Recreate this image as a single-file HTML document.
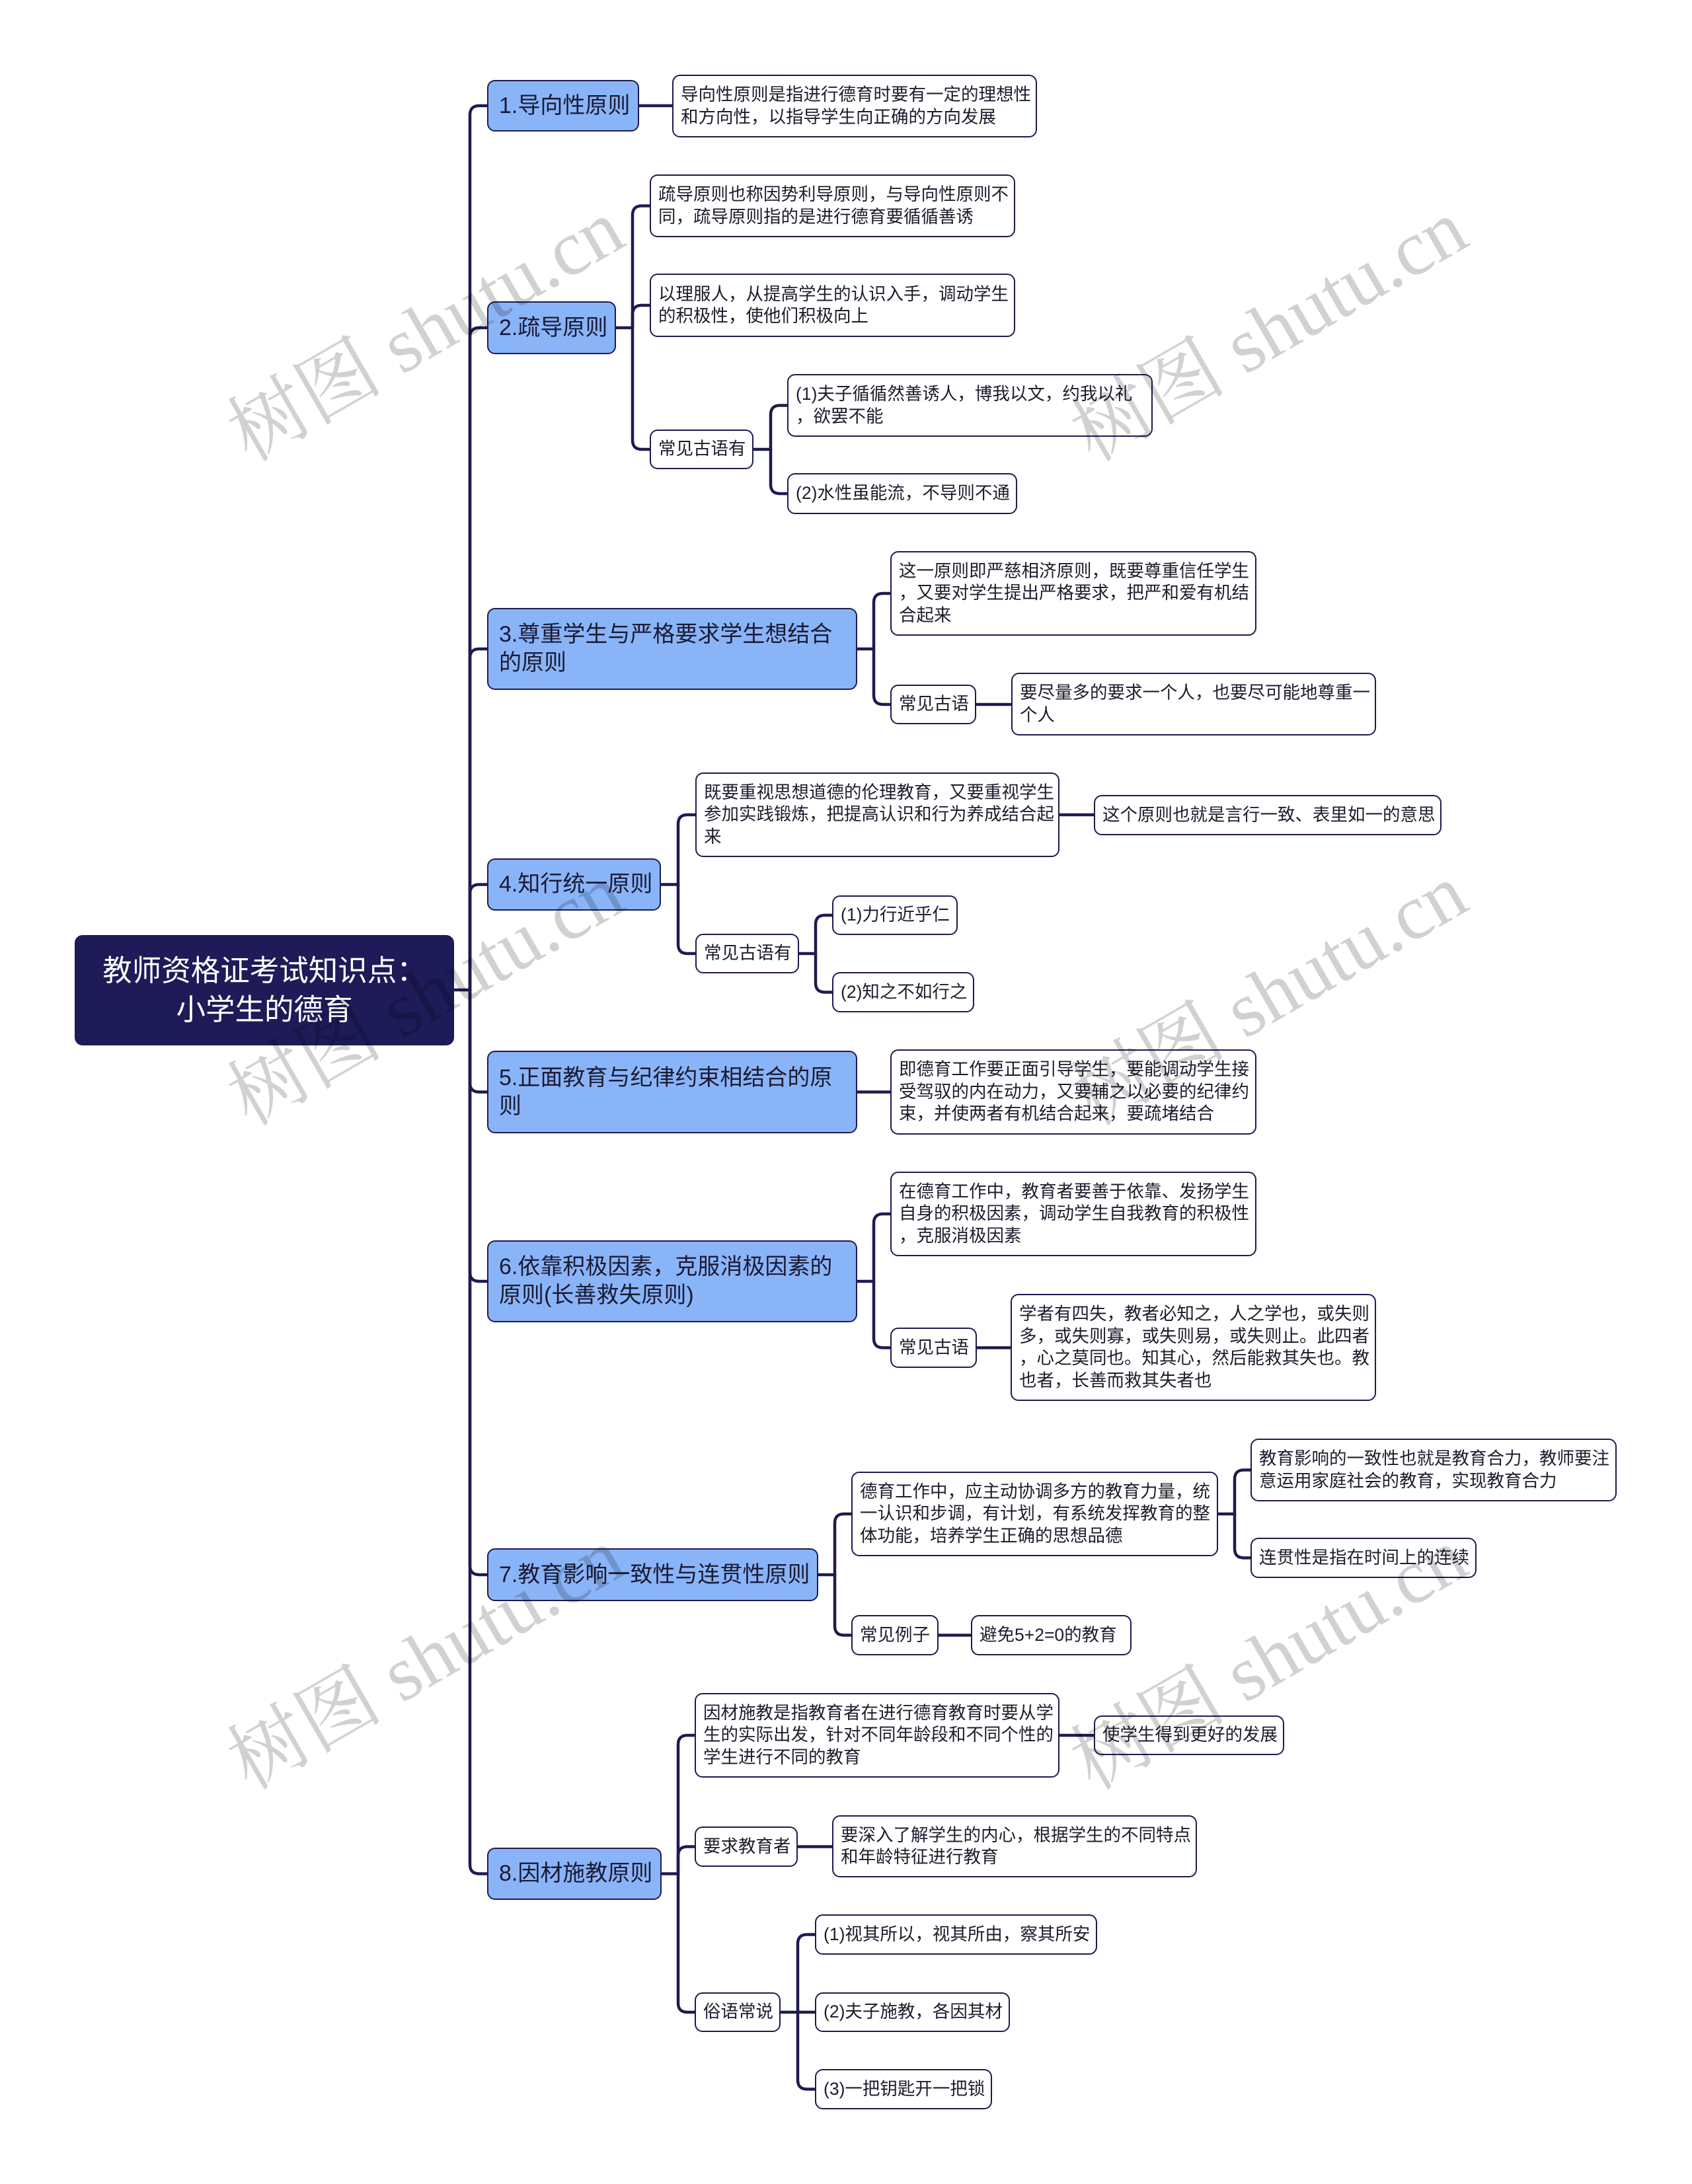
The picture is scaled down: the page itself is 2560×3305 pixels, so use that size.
<!DOCTYPE html>
<html><head><meta charset="utf-8">
<style>
html,body{margin:0;padding:0;background:#fff;}
body{width:2560px;height:3305px;position:relative;overflow:hidden;}
.n{position:absolute;box-sizing:border-box;border:2.5px solid #1d1b4f;border-radius:12px;display:flex;align-items:center;white-space:nowrap;font-family:"Liberation Sans","Noto Sans CJK SC",sans-serif;color:#1c1c2c;}
.l{background:#fff;font-size:26.5px;line-height:33.5px;padding:0 0 0 11px;}
.m{background:#8ab4f8;font-size:34px;line-height:43px;padding:0 0 0 16px;color:#1a1a33;}
.r{background:#1e1b58;color:#fff;font-size:44.5px;line-height:59px;justify-content:center;text-align:center;}
svg{position:absolute;left:0;top:0;}
</style></head><body>
<svg width="2560" height="3305" viewBox="0 0 2560 3305">
<g fill="none" stroke="#1d1b4f" stroke-width="4.5" stroke-linecap="round">
<path d="M688 1498 H711 V174 Q711 160 725 160 H737"/>
<path d="M711 1498 V510 Q711 496 725 496 H737"/>
<path d="M711 1498 V996 Q711 982 725 982 H737"/>
<path d="M711 1498 V1352.5 Q711 1338.5 725 1338.5 H737"/>
<path d="M711 1498 V1638.5 Q711 1652.5 725 1652.5 H737"/>
<path d="M711 1498 V1925 Q711 1939 725 1939 H737"/>
<path d="M711 1498 V2369 Q711 2383 725 2383 H737"/>
<path d="M711 1498 V2821.5 Q711 2835.5 725 2835.5 H737"/>
<path d="M967 160 H1017"/>
<path d="M932 496 H957 V325.5 Q957 311.5 971 311.5 H983"/>
<path d="M957 496 V476 Q957 462 971 462 H983"/>
<path d="M957 496 V666 Q957 680 971 680 H983"/>
<path d="M1140 680 H1166 V627.5 Q1166 613.5 1180 613.5 H1191"/>
<path d="M1166 680 V733 Q1166 747 1180 747 H1191"/>
<path d="M1297 982 H1322 V912 Q1322 898 1336 898 H1347"/>
<path d="M1322 982 V1052 Q1322 1066 1336 1066 H1347"/>
<path d="M1477 1066 H1530"/>
<path d="M1000 1338.5 H1026 V1247 Q1026 1233 1040 1233 H1052"/>
<path d="M1026 1338.5 V1429 Q1026 1443 1040 1443 H1052"/>
<path d="M1603 1233 H1655"/>
<path d="M1209 1443 H1234 V1399 Q1234 1385 1248 1385 H1259"/>
<path d="M1234 1443 V1487.5 Q1234 1501.5 1248 1501.5 H1259"/>
<path d="M1297 1652.5 H1347"/>
<path d="M1297 1939 H1322 V1851 Q1322 1837 1336 1837 H1347"/>
<path d="M1322 1939 V2025.5 Q1322 2039.5 1336 2039.5 H1347"/>
<path d="M1478 2039.5 H1529"/>
<path d="M1238 2383 H1263 V2305 Q1263 2291 1277 2291 H1288"/>
<path d="M1263 2383 V2460.5 Q1263 2474.5 1277 2474.5 H1288"/>
<path d="M1843 2291 H1868 V2238.5 Q1868 2224.5 1882 2224.5 H1892"/>
<path d="M1868 2291 V2343.5 Q1868 2357.5 1882 2357.5 H1892"/>
<path d="M1420 2474.5 H1469"/>
<path d="M1001 2835.5 H1026 V2640 Q1026 2626 1040 2626 H1051"/>
<path d="M1026 2835.5 V2808.5 Q1026 2794.5 1040 2794.5 H1051"/>
<path d="M1026 2835.5 V3031 Q1026 3045 1040 3045 H1051"/>
<path d="M1603 2626 H1655"/>
<path d="M1207 2794.5 H1259"/>
<path d="M1181 3045 H1207 V2941.5 Q1207 2927.5 1221 2927.5 H1233"/>
<path d="M1207 3045 H1233"/>
<path d="M1207 3045 V3147.5 Q1207 3161.5 1221 3161.5 H1233"/>
</g>
</svg>

<div class="n r" style="left:113px;top:1415px;width:574px;height:167px;">教师资格证考试知识点：<br>小学生的德育</div>

<div class="n m" style="left:737px;top:121px;width:230px;height:78px;">1.导向性原则</div>
<div class="n l" style="left:1017px;top:113px;width:552px;height:95px;">导向性原则是指进行德育时要有一定的理想性<br>和方向性，以指导学生向正确的方向发展</div>

<div class="n m" style="left:737px;top:456px;width:195px;height:80px;">2.疏导原则</div>
<div class="n l" style="left:983px;top:264px;width:553px;height:95px;">疏导原则也称因势利导原则，与导向性原则不<br>同，疏导原则指的是进行德育要循循善诱</div>
<div class="n l" style="left:983px;top:414px;width:553px;height:96px;">以理服人，从提高学生的认识入手，调动学生<br>的积极性，使他们积极向上</div>
<div class="n l" style="left:983px;top:650px;width:157px;height:60px;">常见古语有</div>
<div class="n l" style="left:1191px;top:566px;width:553px;height:95px;">(1)夫子循循然善诱人，博我以文，约我以礼<br>，欲罢不能</div>
<div class="n l" style="left:1191px;top:716px;width:348px;height:62px;">(2)水性虽能流，不导则不通</div>

<div class="n m" style="left:737px;top:920px;width:560px;height:124px;">3.尊重学生与严格要求学生想结合<br>的原则</div>
<div class="n l" style="left:1347px;top:834px;width:554px;height:128px;">这一原则即严慈相济原则，既要尊重信任学生<br>，又要对学生提出严格要求，把严和爱有机结<br>合起来</div>
<div class="n l" style="left:1347px;top:1036px;width:130px;height:60px;">常见古语</div>
<div class="n l" style="left:1530px;top:1018px;width:552px;height:95px;">要尽量多的要求一个人，也要尽可能地尊重一<br>个人</div>

<div class="n m" style="left:737px;top:1299px;width:263px;height:79px;">4.知行统一原则</div>
<div class="n l" style="left:1052px;top:1169px;width:551px;height:128px;">既要重视思想道德的伦理教育，又要重视学生<br>参加实践锻炼，把提高认识和行为养成结合起<br>来</div>
<div class="n l" style="left:1655px;top:1203px;width:526px;height:61px;">这个原则也就是言行一致、表里如一的意思</div>
<div class="n l" style="left:1052px;top:1413px;width:157px;height:60px;">常见古语有</div>
<div class="n l" style="left:1259px;top:1355px;width:190px;height:60px;">(1)力行近乎仁</div>
<div class="n l" style="left:1259px;top:1471px;width:215px;height:61px;">(2)知之不如行之</div>

<div class="n m" style="left:737px;top:1590px;width:560px;height:125px;">5.正面教育与纪律约束相结合的原<br>则</div>
<div class="n l" style="left:1347px;top:1588px;width:554px;height:129px;">即德育工作要正面引导学生，要能调动学生接<br>受驾驭的内在动力，又要辅之以必要的纪律约<br>束，并使两者有机结合起来，要疏堵结合</div>

<div class="n m" style="left:737px;top:1877px;width:560px;height:124px;">6.依靠积极因素，克服消极因素的<br>原则(长善救失原则)</div>
<div class="n l" style="left:1347px;top:1773px;width:554px;height:128px;">在德育工作中，教育者要善于依靠、发扬学生<br>自身的积极因素，调动学生自我教育的积极性<br>，克服消极因素</div>
<div class="n l" style="left:1347px;top:2009px;width:131px;height:61px;">常见古语</div>
<div class="n l" style="left:1529px;top:1958px;width:553px;height:162px;">学者有四失，教者必知之，人之学也，或失则<br>多，或失则寡，或失则易，或失则止。此四者<br>，心之莫同也。知其心，然后能救其失也。教<br>也者，长善而救其失者也</div>

<div class="n m" style="left:737px;top:2343px;width:501px;height:80px;">7.教育影响一致性与连贯性原则</div>
<div class="n l" style="left:1288px;top:2227px;width:555px;height:128px;">德育工作中，应主动协调多方的教育力量，统<br>一认识和步调，有计划，有系统发挥教育的整<br>体功能，培养学生正确的思想品德</div>
<div class="n l" style="left:1892px;top:2177px;width:554px;height:95px;">教育影响的一致性也就是教育合力，教师要注<br>意运用家庭社会的教育，实现教育合力</div>
<div class="n l" style="left:1892px;top:2327px;width:342px;height:61px;">连贯性是指在时间上的连续</div>
<div class="n l" style="left:1288px;top:2444px;width:132px;height:61px;">常见例子</div>
<div class="n l" style="left:1469px;top:2444px;width:243px;height:61px;">避免5+2=0的教育</div>

<div class="n m" style="left:737px;top:2796px;width:264px;height:79px;">8.因材施教原则</div>
<div class="n l" style="left:1051px;top:2562px;width:552px;height:128px;">因材施教是指教育者在进行德育教育时要从学<br>生的实际出发，针对不同年龄段和不同个性的<br>学生进行不同的教育</div>
<div class="n l" style="left:1655px;top:2596px;width:288px;height:60px;">使学生得到更好的发展</div>
<div class="n l" style="left:1051px;top:2764px;width:156px;height:61px;">要求教育者</div>
<div class="n l" style="left:1259px;top:2747px;width:552px;height:94px;">要深入了解学生的内心，根据学生的不同特点<br>和年龄特征进行教育</div>
<div class="n l" style="left:1051px;top:3015px;width:130px;height:60px;">俗语常说</div>
<div class="n l" style="left:1233px;top:2897px;width:427px;height:61px;">(1)视其所以，视其所由，察其所安</div>
<div class="n l" style="left:1233px;top:3015px;width:295px;height:60px;">(2)夫子施教，各因其材</div>
<div class="n l" style="left:1233px;top:3131px;width:268px;height:61px;">(3)一把钥匙开一把锁</div>

<svg width="2560" height="3305" viewBox="0 0 2560 3305" style="pointer-events:none;">
<g font-family="'Liberation Serif','Noto Serif CJK SC',serif" font-size="118" fill="#000" fill-opacity="0.18" text-anchor="middle">
<text x="0" y="0" transform="translate(664 535) rotate(-30)">树图 shutu.cn</text>
<text x="0" y="0" transform="translate(1940 535) rotate(-30)">树图 shutu.cn</text>
<text x="0" y="0" transform="translate(664 1540) rotate(-30)">树图 shutu.cn</text>
<text x="0" y="0" transform="translate(1940 1540) rotate(-30)">树图 shutu.cn</text>
<text x="0" y="0" transform="translate(664 2545) rotate(-30)">树图 shutu.cn</text>
<text x="0" y="0" transform="translate(1940 2545) rotate(-30)">树图 shutu.cn</text>
</g>
</svg>
</body></html>
